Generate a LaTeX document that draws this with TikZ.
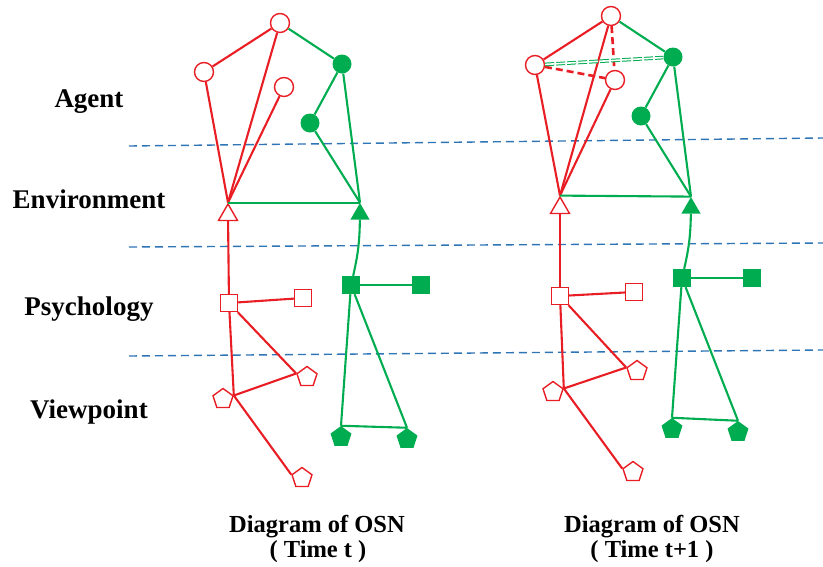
\documentclass[tikz,border=0pt]{standalone}
\usepackage{fontspec}
\setmainfont{Liberation Serif}
\usetikzlibrary{shapes.geometric}
\definecolor{osnred}{RGB}{232,30,36}
\definecolor{osngreen}{RGB}{0,172,80}
\definecolor{osnblue}{RGB}{46,117,182}
\tikzset{
	redline/.style={draw=osnred, line width=2.1pt},
	greenline/.style={draw=osngreen, line width=2.1pt},
	layerline/.style={draw=osnblue, line width=1.4pt, dash pattern=on 8pt off 5pt},
	agentr/.style={circle, draw=osnred, fill=white, line width=1.4pt, minimum size=19pt, inner sep=0pt},
	agentg/.style={circle, fill=osngreen, minimum size=19pt, inner sep=0pt},
	envr/.style={regular polygon, regular polygon sides=3, draw=osnred, fill=white, line width=1.4pt, minimum size=22pt, inner sep=0pt},
	envg/.style={regular polygon, regular polygon sides=3, fill=osngreen, minimum size=22pt, inner sep=0pt},
	psyr/.style={rectangle, draw=osnred, fill=white, line width=1.4pt, minimum size=17pt, inner sep=0pt},
	psyg/.style={rectangle, fill=osngreen, minimum size=18pt, inner sep=0pt},
	viewr/.style={regular polygon, regular polygon sides=5, draw=osnred, fill=white, line width=1.4pt, minimum size=21pt, inner sep=0pt},
	viewg/.style={regular polygon, regular polygon sides=5, fill=osngreen, minimum size=22pt, inner sep=0pt},
	levellabel/.style={anchor=base, font=\bfseries\fontsize{27}{30}\selectfont},
	caption/.style={anchor=base, font=\bfseries\fontsize{24.5}{28}\selectfont}
}
\begin{document}
\begin{tikzpicture}[x=1pt,y=-1pt]
	\useasboundingbox (0,0) rectangle (823,566);
	%layer borders
	\draw[layerline] (129,146) -- (823,138);
	\draw[layerline] (129,247) -- (823,243);
	\draw[layerline] (129,356) -- (823,350);
	%layer names
	\node[levellabel] (agent) at (89,107) {Agent};
	\node[levellabel] (env) at (89,208) {Environment};
	\node[levellabel] (psy) at (89,315) {Psychology};
	\node[levellabel] (view) at (89,418) {Viewpoint};

	%time t
	\node[agentr] (rA1) at (280,23) {};
	\node[agentr] (rA2) at (204,72) {};
	\node[agentr] (rA3) at (284,87) {};
	\node[agentg] (gA1) at (342,64) {};
	\node[agentg] (gA2) at (310,123) {};
	\node[envr] (trA) at (228,215) {};
	\node[envg] (tgA) at (360,214) {};
	\node[psyr] (sqA1) at (229,303) {};
	\node[psyr] (sqA2) at (303,298) {};
	\node[psyg] (sgA1) at (351,285) {};
	\node[psyg] (sgA2) at (421,285) {};
	\node[viewr] (pA1) at (307,377) {};
	\node[viewr] (pA2) at (223,399) {};
	\node[viewr] (pA3) at (302,478) {};
	\node[viewg] (pgA1) at (341,437) {};
	\node[viewg] (pgA2) at (407,439) {};
	% red
	\draw[redline] (rA1) -- (rA2);
	\draw[redline] (rA1) -- (trA.corner 1);
	\draw[redline] (rA2) -- (trA.corner 1);
	\draw[redline] (rA3) -- (trA.corner 1);
	\draw[redline] (trA) -- (sqA1);
	\draw[redline] (sqA1) -- (sqA2);
	\draw[redline] (sqA1) -- (pA1.corner 2);
	\draw[redline] (sqA1) -- (pA2.corner 5);
	\draw[redline] (pA2.corner 5) -- (pA1.corner 2);
	\draw[redline] (pA2.corner 5) -- (pA3.corner 2);
	% green
	\draw[greenline] (rA1) -- (gA1);
	\draw[greenline] (gA1) -- (gA2);
	\draw[greenline] (gA1) -- (tgA.corner 1);
	\draw[greenline] (gA2) -- (tgA.corner 1);
	\draw[greenline] (trA.corner 1) -- (tgA.corner 1);
	\draw[greenline] (tgA) to[bend left=6] (sgA1);
	\draw[greenline] (sgA1) -- (sgA2);
	\draw[greenline] (sgA1) -- (pgA1.corner 1);
	\draw[greenline] (sgA1) -- (pgA2.corner 1);
	\draw[greenline] (pgA1.corner 1) -- (pgA2.corner 1);

	%time t+1
	\node[agentr] (rB1) at (611,16) {};
	\node[agentr] (rB2) at (535,65) {};
	\node[agentr] (rB3) at (615,80) {};
	\node[agentg] (gB1) at (673,57) {};
	\node[agentg] (gB2) at (641,116) {};
	\node[envr] (trB) at (560,208) {};
	\node[envg] (tgB) at (691,208) {};
	\node[psyr] (sqB1) at (560,296) {};
	\node[psyr] (sqB2) at (634,292) {};
	\node[psyg] (sgB1) at (682,278) {};
	\node[psyg] (sgB2) at (752,278) {};
	\node[viewr] (pB1) at (637,371) {};
	\node[viewr] (pB2) at (553,392) {};
	\node[viewr] (pB3) at (633,472) {};
	\node[viewg] (pgB1) at (672,429) {};
	\node[viewg] (pgB2) at (738,432) {};
	% red
	\draw[redline] (rB1) -- (rB2);
	\draw[redline] (rB1) -- (trB.corner 1);
	\draw[redline] (rB2) -- (trB.corner 1);
	\draw[redline] (rB3) -- (trB.corner 1);
	\draw[redline, line width=2.6pt, dash pattern=on 7pt off 4pt] (rB1) -- (rB3);
	\draw[redline, line width=2.6pt, dash pattern=on 7pt off 4pt] (rB2) -- (rB3);
	\draw[redline] (trB) -- (sqB1);
	\draw[redline] (sqB1) -- (sqB2);
	\draw[redline] (sqB1) -- (pB1.corner 2);
	\draw[redline] (sqB1) -- (pB2.corner 5);
	\draw[redline] (pB2.corner 5) -- (pB1.corner 2);
	\draw[redline] (pB2.corner 5) -- (pB3.corner 2);
	% green
	\draw[greenline] (rB1) -- (gB1);
	\draw[draw=osngreen, line width=1pt, double=white, double distance=1.6pt, dash pattern=on 9pt off 2pt] (rB2) -- (gB1);
	\draw[greenline] (gB1) -- (gB2);
	\draw[greenline] (gB1) -- (tgB.corner 1);
	\draw[greenline] (gB2) -- (tgB.corner 1);
	\draw[greenline] (trB.corner 1) -- (tgB.corner 1);
	\draw[greenline] (tgB) to[bend left=6] (sgB1);
	\draw[greenline] (sgB1) -- (sgB2);
	\draw[greenline] (sgB1) -- (pgB1.corner 1);
	\draw[greenline] (sgB1) -- (pgB2.corner 1);
	\draw[greenline] (pgB1.corner 1) -- (pgB2.corner 1);

	%captions
	\node[caption] (capA1) at (317,532) {Diagram of OSN};
	\node[caption] (capA2) at (318,557) {( Time t )};
	\node[caption] (capB1) at (652,532) {Diagram of OSN};
	\node[caption] (capB2) at (652,557) {( Time t+1 )};
\end{tikzpicture}
\end{document}
